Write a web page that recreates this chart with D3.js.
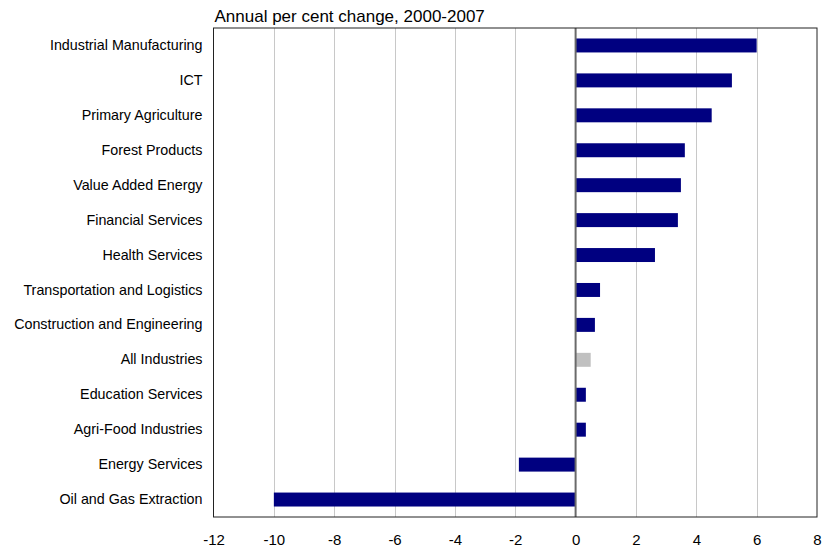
<!DOCTYPE html>
<html><head><meta charset="utf-8">
<script src="https://cdn.jsdelivr.net/npm/d3@7"></script>
<style>body{margin:0;background:#fff;} text{font-family:"Liberation Sans",Arial,sans-serif;}</style>
</head><body>
<svg id="chart" width="822" height="552"></svg>
<script>
const categories = ["Industrial Manufacturing","ICT","Primary Agriculture","Forest Products","Value Added Energy","Financial Services","Health Services","Transportation and Logistics","Construction and Engineering","All Industries","Education Services","Agri-Food Industries","Energy Services","Oil and Gas Extraction"];
const values = [6.0, 5.18, 4.51, 3.62, 3.49, 3.39, 2.63, 0.81, 0.64, 0.5, 0.34, 0.34, -1.88, -10.0];
const highlight = ["All Industries"];
const xTicks = [-12,-10,-8,-6,-4,-2,0,2,4,6,8];
const title = "Annual per cent change, 2000-2007";

const svg = d3.select("#chart");
const L = 213.5, R = 817, T = 28, B = 517;
const x = d3.scaleLinear().domain([-12, 8]).range([L, R]);
const y = d3.scaleBand().domain(categories).range([T, B]).paddingInner(0.6).paddingOuter(0.3);

// gridlines
svg.append("g").selectAll("line").data(xTicks.filter(d => d !== 0 && d !== -12 && d !== 8)).join("line")
  .attr("x1", d => Math.round(x(d)) + 0.5).attr("x2", d => Math.round(x(d)) + 0.5)
  .attr("y1", T).attr("y2", B).attr("stroke", "#c8c8c8").attr("stroke-width", 1);

// bars
const data = categories.map((c, i) => ({c, v: values[i]}));
svg.append("g").selectAll("rect").data(data).join("rect")
  .attr("x", d => x(Math.min(0, d.v)))
  .attr("width", d => Math.abs(x(d.v) - x(0)))
  .attr("y", d => y(d.c))
  .attr("height", y.bandwidth())
  .attr("fill", d => highlight.includes(d.c) ? "#c0c0c0" : "#000080");

// zero line
svg.append("line").attr("x1", x(0)).attr("x2", x(0)).attr("y1", T).attr("y2", B)
  .attr("stroke", "#6a6a6a").attr("stroke-width", 2);

// frame
svg.append("rect").attr("x", L).attr("y", T).attr("width", R - L).attr("height", B - T)
  .attr("fill", "none").attr("stroke", "#222").attr("stroke-width", 1);

// x axis labels
const xAxis = d3.axisBottom(x).tickValues(xTicks).tickSize(0).tickPadding(17).tickFormat(d3.format("d"));
const gx = svg.append("g").attr("transform", `translate(0,${B})`).call(xAxis);
gx.select(".domain").remove();
gx.selectAll("text").attr("font-size", "15px").attr("fill", "#000")
  .attr("font-family", "Liberation Sans, Arial, sans-serif").text(d => d < 0 ? "-" + Math.abs(d) : d);

// y axis labels
const yAxis = d3.axisLeft(y).tickSize(0).tickPadding(11);
const gy = svg.append("g").attr("transform", `translate(${L},0)`).call(yAxis);
gy.select(".domain").remove();
gy.selectAll("text").attr("font-size", "14.3px").attr("fill", "#000")
  .attr("font-family", "Liberation Sans, Arial, sans-serif");

// title
svg.append("text").attr("x", L + 1).attr("y", 22).attr("font-size", "17px").attr("fill", "#000").text(title);
</script>
</body></html>
